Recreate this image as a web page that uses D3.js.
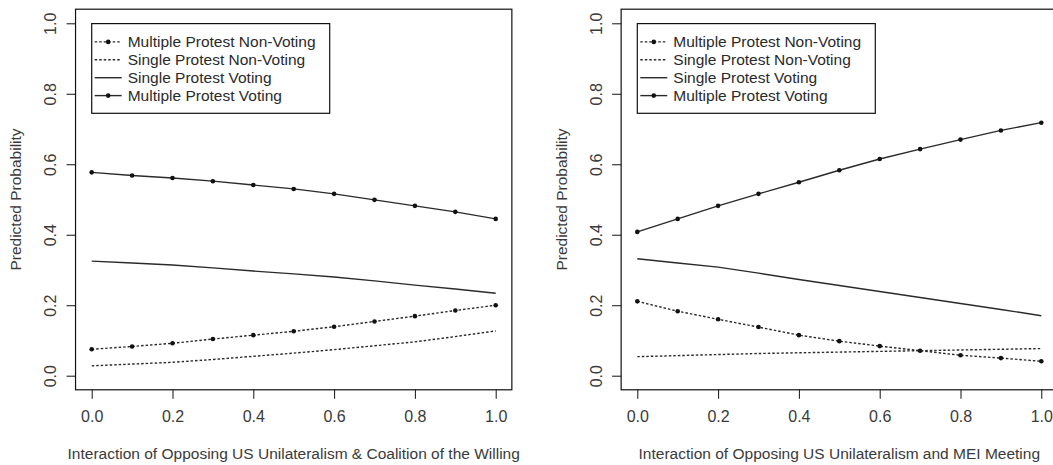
<html>
<head>
<style>
  body { margin: 0; background: #fff; }
  svg { display: block; font-family: 'Liberation Sans', Arial, sans-serif; }
  .axis text { fill: #3a3a3a; font-size: 16px; }
  .axis .tick line { stroke: #111; }
  .title { fill: #3a3a3a; font-size: 15.5px; }
  .legend text { fill: #2a2a2a; font-size: 15.5px; }
</style>
</head>
<body>
<svg width="1053" height="465"></svg>
<script src="https://d3js.org/d3.v7.min.js"></script>
<script>
// x grid shared by both panels
let xValues = [0, 0.1, 0.2, 0.3, 0.4, 0.5, 0.6, 0.7, 0.8, 0.9, 1.0]
let xTicks = [0, 0.2, 0.4, 0.6, 0.8, 1.0]
let yTicks = [0, 0.2, 0.4, 0.6, 0.8, 1.0]

let legendLabels = ["Multiple Protest Non-Voting", "Single Protest Non-Voting",
                    "Single Protest Voting", "Multiple Protest Voting"]

let xTitles = ["Interaction of Opposing US Unilateralism & Coalition of the Willing",
               "Interaction of Opposing US Unilateralism and MEI Meeting"]
let yTitle = "Predicted Probability"

// left panel
let coalitionMultiNonVoting = [0.075, 0.083, 0.092, 0.104, 0.115, 0.126, 0.139, 0.154, 0.169, 0.185, 0.200]
let coalitionSingleNonVoting = [0.028, 0.033, 0.038, 0.046, 0.055, 0.064, 0.074, 0.085, 0.096, 0.111, 0.127]
let coalitionSingleVoting = [0.325, 0.320, 0.314, 0.306, 0.297, 0.289, 0.280, 0.269, 0.257, 0.246, 0.234]
let coalitionMultiVoting = [0.577, 0.568, 0.561, 0.552, 0.541, 0.530, 0.516, 0.499, 0.482, 0.465, 0.445]

// right panel
let meiMultiNonVoting = [0.211, 0.183, 0.160, 0.138, 0.115, 0.098, 0.084, 0.071, 0.058, 0.050, 0.041]
let meiSingleNonVoting = [0.054, 0.057, 0.060, 0.063, 0.065, 0.067, 0.069, 0.071, 0.073, 0.075, 0.077]
let meiSingleVoting = [0.332, 0.320, 0.308, 0.291, 0.273, 0.256, 0.239, 0.222, 0.205, 0.188, 0.170]
let meiMultiVoting = [0.408, 0.445, 0.482, 0.516, 0.549, 0.583, 0.615, 0.643, 0.670, 0.696, 0.718]

let svg = d3.select("svg")

// line styles in legend order
let styles = [
    {dash: "2.5,2", dots: true},
    {dash: "2.5,2", dots: false},
    {dash: null, dots: false},
    {dash: null, dots: true}
]

let panels = [
    {left: 91.7, series: [coalitionMultiNonVoting, coalitionSingleNonVoting, coalitionSingleVoting, coalitionMultiVoting], xTitle: xTitles[0]},
    {left: 637.3, series: [meiMultiNonVoting, meiSingleNonVoting, meiSingleVoting, meiMultiVoting], xTitle: xTitles[1]}
]

let plotW = 404
let yTop = 23.3, yBottom = 375.7

panels.forEach(p => {
    let x = d3.scaleLinear().domain([0, 1]).range([p.left, p.left + plotW])
    let y = d3.scaleLinear().domain([0, 1]).range([yBottom, yTop])

    // R style plot region extends 4% past the data range
    let bx0 = x(-0.04), bx1 = x(1.04), by0 = y(1.04), by1 = y(-0.04)

    let g = svg.append("g")

    g.append("rect")
        .attr("x", bx0).attr("y", by0)
        .attr("width", bx1 - bx0).attr("height", by1 - by0)
        .style("fill", "none").style("stroke", "#111").style("stroke-width", 1.2)

    let xAxis = d3.axisBottom(x).tickValues(xTicks).tickSize(9).tickPadding(12).tickFormat(d3.format(".1f"))
    g.append("g")
        .attr("class", "axis")
        .attr("transform", `translate(0, ${by1})`)
        .call(xAxis)
        .call(a => a.select(".domain").remove())

    let yAxis = d3.axisLeft(y).tickValues(yTicks).tickSize(9).tickFormat(d3.format(".1f"))
    let ya = g.append("g")
        .attr("class", "axis")
        .attr("transform", `translate(${bx0}, 0)`)
        .call(yAxis)
        .call(a => a.select(".domain").remove())
    ya.selectAll(".tick text")
        .attr("x", 0).attr("dy", null)
        .attr("text-anchor", "middle")
        .attr("transform", "translate(-25, 0) rotate(-90)")
        .attr("dominant-baseline", "central")

    g.append("text")
        .attr("class", "title")
        .attr("x", (bx0 + bx1) / 2).attr("y", 458.5)
        .attr("text-anchor", "middle")
        .text(p.xTitle)

    g.append("text")
        .attr("class", "title")
        .attr("transform", `translate(${bx0 - 60}, ${(by0 + by1) / 2}) rotate(-90)`)
        .attr("text-anchor", "middle")
        .attr("dominant-baseline", "central")
        .text(yTitle)

    let line = d3.line().x((d, i) => x(xValues[i])).y(d => y(d))

    p.series.forEach((s, k) => {
        g.append("path")
            .datum(s)
            .attr("d", line)
            .style("fill", "none")
            .style("stroke", "#2a2a2a")
            .style("stroke-width", 1.4)
            .style("stroke-dasharray", styles[k].dash)
        if (styles[k].dots) {
            g.selectAll(null)
                .data(s)
                .join("circle")
                .attr("cx", (d, i) => x(xValues[i]))
                .attr("cy", d => y(d))
                .attr("r", 2.3)
                .style("fill", "#111")
        }
    })

    // legend
    let lx = x(0), ly = 23.6
    let lg = g.append("g").attr("class", "legend")
    lg.append("rect")
        .attr("x", lx).attr("y", ly)
        .attr("width", 238).attr("height", 89.7)
        .style("fill", "white").style("stroke", "#111").style("stroke-width", 1.2)
    legendLabels.forEach((lab, k) => {
        let ry = ly + 18.3 + k * 17.9
        lg.append("line")
            .attr("x1", lx + 3).attr("x2", lx + 30)
            .attr("y1", ry).attr("y2", ry)
            .style("stroke", "#2a2a2a").style("stroke-width", 1.4)
            .style("stroke-dasharray", styles[k].dash)
        if (styles[k].dots) {
            lg.append("circle").attr("cx", lx + 16.5).attr("cy", ry).attr("r", 2.3).style("fill", "#111")
        }
        lg.append("text")
            .attr("x", lx + 36).attr("y", ry)
            .attr("dominant-baseline", "central")
            .text(lab)
    })
})
</script>
</body>
</html>
